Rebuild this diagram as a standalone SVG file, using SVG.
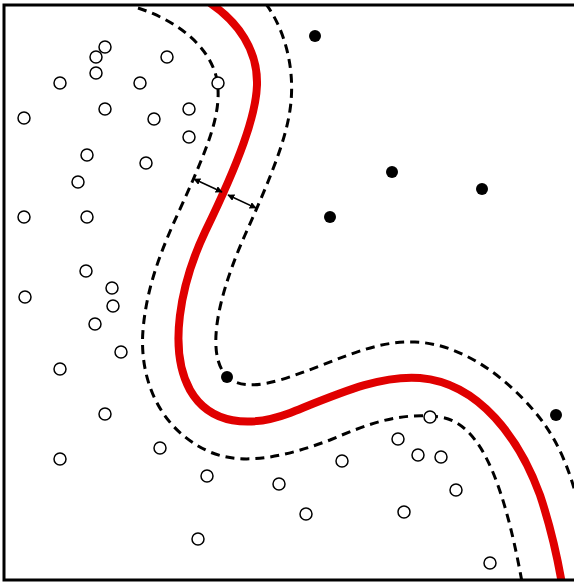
<svg xmlns="http://www.w3.org/2000/svg" width="574" height="583" viewBox="0 0 574 583">
<style>
.o{fill:#fff;stroke:#000;stroke-width:1.5}
.f{fill:#000}
.dash{fill:none;stroke:#000;stroke-width:3;stroke-dasharray:9 6}
.red{fill:none;stroke:#e00000;stroke-width:8}
.arr{stroke:#000;stroke-width:1.5;fill:none}
</style>
<defs>
<clipPath id="frame"><rect x="4" y="5" width="570" height="575"/></clipPath>
<marker id="ah" viewBox="0 0 10 10" refX="9" refY="5" markerWidth="7" markerHeight="7" orient="auto-start-reverse" markerUnits="userSpaceOnUse">
<path d="M0,0 L10,5 L0,10 z" fill="#000"/>
</marker>
</defs>
<rect width="574" height="583" fill="#fff"/>
<g id="curves" clip-path="url(#frame)">
<path class="dash" d="M138,8 C175,20 210,45 217,80 C222,110 210,140 193,180 C175,222 148,270 143,330 C139,380 160,430 210,452 C245,467 290,455 330,440 C370,423 400,412 440,417 C477,422 502,472 522,582"/>
<path class="dash" d="M266,4 C285,30 296,70 290,110 C285,145 265,190 245,235 C225,280 210,330 218,360 C225,385 245,390 280,380 C330,365 370,340 415,342 C470,344 520,390 545,425 C560,447 570,470 580,510"/>
<path class="red" d="M210,3 C238,22 258,50 257,85 C256,115 240,160 205,232 C180,285 168,350 190,390 C210,425 250,428 290,413 C340,393 380,375 420,378 C480,383 520,440 540,495 C550,525 557,555 562,584"/>
</g>
<g id="margin-arrows">
<line class="arr" x1="194" y1="179" x2="222" y2="192" marker-start="url(#ah)" marker-end="url(#ah)"/>
<line class="arr" x1="228" y1="195" x2="256" y2="208" marker-start="url(#ah)" marker-end="url(#ah)"/>
</g>
<g id="open-points">
<circle class="o" cx="105" cy="47" r="6"/>
<circle class="o" cx="96" cy="57" r="6"/>
<circle class="o" cx="167" cy="57" r="6"/>
<circle class="o" cx="96" cy="73" r="6"/>
<circle class="o" cx="60" cy="83" r="6"/>
<circle class="o" cx="140" cy="83" r="6"/>
<circle class="o" cx="218" cy="83" r="6"/>
<circle class="o" cx="105" cy="109" r="6"/>
<circle class="o" cx="189" cy="109" r="6"/>
<circle class="o" cx="24" cy="118" r="6"/>
<circle class="o" cx="154" cy="119" r="6"/>
<circle class="o" cx="189" cy="137" r="6"/>
<circle class="o" cx="87" cy="155" r="6"/>
<circle class="o" cx="146" cy="163" r="6"/>
<circle class="o" cx="78" cy="182" r="6"/>
<circle class="o" cx="24" cy="217" r="6"/>
<circle class="o" cx="87" cy="217" r="6"/>
<circle class="o" cx="86" cy="271" r="6"/>
<circle class="o" cx="112" cy="288" r="6"/>
<circle class="o" cx="25" cy="297" r="6"/>
<circle class="o" cx="113" cy="306" r="6"/>
<circle class="o" cx="95" cy="324" r="6"/>
<circle class="o" cx="121" cy="352" r="6"/>
<circle class="o" cx="60" cy="369" r="6"/>
<circle class="o" cx="105" cy="414" r="6"/>
<circle class="o" cx="160" cy="448" r="6"/>
<circle class="o" cx="60" cy="459" r="6"/>
<circle class="o" cx="207" cy="476" r="6"/>
<circle class="o" cx="279" cy="484" r="6"/>
<circle class="o" cx="198" cy="539" r="6"/>
<circle class="o" cx="306" cy="514" r="6"/>
<circle class="o" cx="342" cy="461" r="6"/>
<circle class="o" cx="398" cy="439" r="6"/>
<circle class="o" cx="430" cy="417" r="6"/>
<circle class="o" cx="418" cy="455" r="6"/>
<circle class="o" cx="441" cy="457" r="6"/>
<circle class="o" cx="456" cy="490" r="6"/>
<circle class="o" cx="404" cy="512" r="6"/>
<circle class="o" cx="490" cy="563" r="6"/>
</g>
<g id="filled-points">
<circle class="f" cx="315" cy="36" r="6"/>
<circle class="f" cx="392" cy="172" r="6"/>
<circle class="f" cx="482" cy="189" r="6"/>
<circle class="f" cx="330" cy="217" r="6"/>
<circle class="f" cx="227" cy="377" r="6"/>
<circle class="f" cx="556" cy="415" r="6"/>
</g>
<path id="frame-border" d="M574,5 H4 V580 H574" fill="none" stroke="#000" stroke-width="3"/>
</svg>
